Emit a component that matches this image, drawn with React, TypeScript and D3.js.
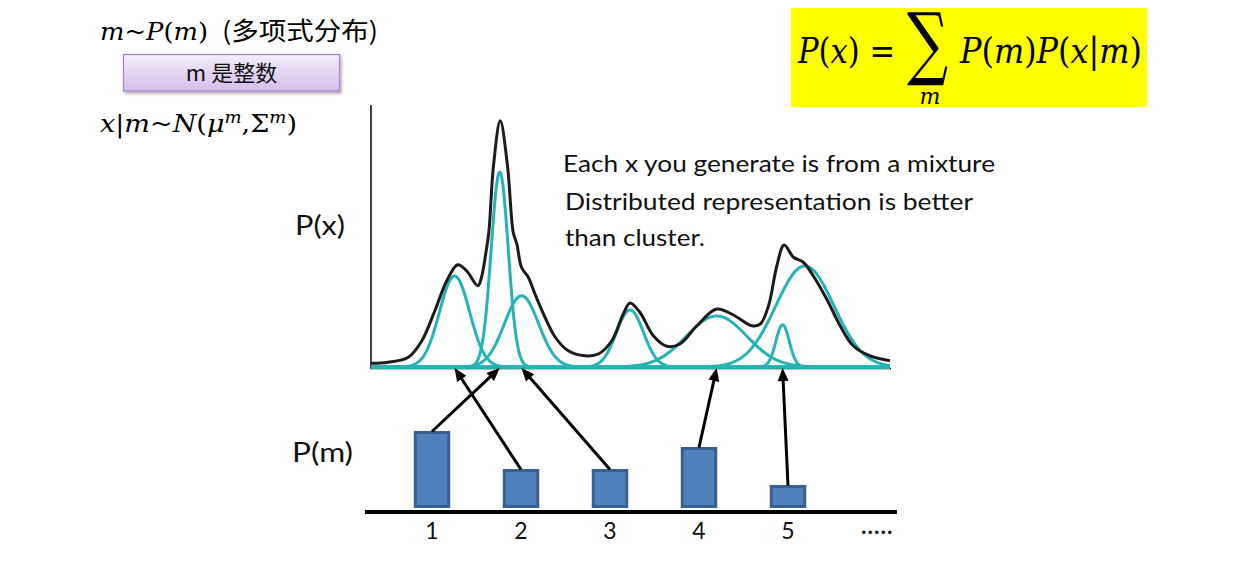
import React from 'react';
import * as d3 from 'd3';

// ---- data ----
// Gaussian components of the mixture (x in arbitrary units 0..10, height = density)
const componentMeans = [1.61, 2.48, 2.9, 4.99, 6.66, 7.93, 8.36];
const componentSigmas = [0.29, 0.164, 0.33, 0.26, 0.58, 0.13, 0.56];
const componentPeaks = [0.364, 0.78, 0.285, 0.228, 0.204, 0.169, 0.404];

// the drawn P(x) curve
const mixtureX = [0, 0.33, 0.72, 0.98, 1.23, 1.46, 1.67, 1.84, 2.06, 2.13, 2.21, 2.27, 2.36, 2.49, 2.63, 2.74, 2.81, 2.9, 3.03, 3.16, 3.35, 3.55, 3.8, 4.12, 4.38, 4.64, 4.86, 4.99, 5.18, 5.44, 5.7, 5.95, 6.28, 6.66, 6.98, 7.34, 7.5, 7.66, 7.82, 7.96, 8.14, 8.33, 8.52, 8.78, 9.04, 9.29, 9.61, 10];
const mixtureY = [0.015, 0.019, 0.039, 0.105, 0.225, 0.345, 0.409, 0.385, 0.325, 0.36, 0.452, 0.539, 0.805, 0.985, 0.805, 0.539, 0.492, 0.399, 0.359, 0.292, 0.2, 0.119, 0.065, 0.045, 0.052, 0.105, 0.212, 0.256, 0.219, 0.125, 0.083, 0.092, 0.165, 0.232, 0.208, 0.165, 0.172, 0.245, 0.405, 0.488, 0.439, 0.419, 0.365, 0.272, 0.165, 0.085, 0.045, 0.025];

// P(m) bars
const mCategories = ['1', '2', '3', '4', '5'];
const mEllipsis = '·····';
const mProbs = [0.37, 0.18, 0.18, 0.29, 0.1];
// which component each m points to
const mTargets = [1, 0, 2, 4, 5];

const textLines = [
  'Each x you generate is from a mixture',
  'Distributed representation is better',
  'than cluster.',
];

const SANS = 'Lato, "Open Sans", sans-serif';
const SERIF = '"DejaVu Serif", "Liberation Serif", serif';
const CJK = '"Noto Sans CJK SC", sans-serif';

export default function App() {
  const W = 1254;
  const H = 576;

  const xS = d3.scaleLinear().domain([0, 10]).range([371, 890]);
  const yS = d3.scaleLinear().domain([0, 1]).range([367, 117]);

  const gaussLine = d3
    .line<[number, number]>()
    .x((d) => xS(d[0]))
    .y((d) => yS(d[1]));
  const grid = d3.range(0, 10.0001, 0.02);
  const compPaths = componentMeans.map((mu, i) => {
    const s = componentSigmas[i];
    const h = componentPeaks[i];
    return gaussLine(grid.map((x) => [x, h * Math.exp(-((x - mu) ** 2) / (2 * s * s))] as [number, number])) || '';
  });

  const mixLine = d3
    .line<number>()
    .x((_, i) => xS(mixtureX[i]))
    .y((d) => yS(d))
    .curve(d3.curveCatmullRom.alpha(0.5));
  const mixPath = mixLine(mixtureY) || '';

  const bx = d3.scalePoint<string>().domain([...mCategories, mEllipsis]).range([432, 877]);
  const by = d3.scaleLinear().domain([0, 1]).range([506.5, 306.5]);
  const barW = 33.5;

  const arrows = mCategories.map((c, i) => {
    const x1 = bx(c) as number;
    const y1 = by(mProbs[i]) - 1;
    const x2 = xS(componentMeans[mTargets[i]]);
    const y2 = 368;
    const ang = Math.atan2(y2 - y1, x2 - x1);
    const L = 13;
    const hw = 5.5;
    const cx = x2 - L * Math.cos(ang);
    const cy = y2 - L * Math.sin(ang);
    const pts = [
      [x2, y2],
      [cx + hw * Math.sin(ang), cy - hw * Math.cos(ang)],
      [cx - hw * Math.sin(ang), cy + hw * Math.cos(ang)],
    ];
    return { x1, y1, x2: cx + Math.cos(ang), y2: cy + Math.sin(ang), pts: pts.map((p) => p.join(',')).join(' ') };
  });

  return (
    <svg width={W} height={H} style={{ position: 'absolute', left: 0, top: 0, background: '#fff' }}>
      <defs>
        <linearGradient id="boxGrad" x1="0" y1="0" x2="0" y2="1">
          <stop offset="0" stopColor="#F4EEFA" />
          <stop offset="1" stopColor="#D3BEEA" />
        </linearGradient>
        <filter id="shadow" x="-10%" y="-20%" width="130%" height="160%">
          <feDropShadow dx="1.5" dy="2" stdDeviation="1.5" floodColor="#000" floodOpacity="0.35" />
        </filter>
      </defs>

      {/* top-left notation */}
      <text x={100} y={40} fontFamily={SERIF} fontSize={24} textLength={108} lengthAdjust="spacingAndGlyphs">
        <tspan fontStyle="italic">m</tspan>
        <tspan>~</tspan>
        <tspan fontStyle="italic">P</tspan>
        <tspan>(</tspan>
        <tspan fontStyle="italic">m</tspan>
        <tspan>)</tspan>
      </text>
      <text x={222} y={40} fontFamily={CJK} fontSize={25} textLength={156} lengthAdjust="spacingAndGlyphs">
        (多项式分布)
      </text>

      <rect x={123.5} y={54.5} width={216} height={36.5} fill="url(#boxGrad)" stroke="#A283C9" strokeWidth={1.2} filter="url(#shadow)" />
      <text x={231.5} y={81} textAnchor="middle" fontFamily={CJK} fontSize={22} fill="#111">
        m 是整数
      </text>

      <text x={100} y={132} fontFamily={SERIF} fontSize={24} textLength={197} lengthAdjust="spacingAndGlyphs">
        <tspan fontStyle="italic">x</tspan>
        <tspan>|</tspan>
        <tspan fontStyle="italic">m</tspan>
        <tspan>~</tspan>
        <tspan fontStyle="italic">N</tspan>
        <tspan>(</tspan>
        <tspan fontStyle="italic">μ</tspan>
        <tspan fontStyle="italic" fontSize={16} dy={-9}>m</tspan>
        <tspan dy={9}>,</tspan>
        <tspan>Σ</tspan>
        <tspan fontStyle="italic" fontSize={16} dy={-9}>m</tspan>
        <tspan dy={9}>)</tspan>
      </text>

      {/* yellow formula box */}
      <rect x={791} y={8} width={356} height={99} fill="#FFFF00" />
      <text x={798} y={63} fontFamily={SERIF} fontSize={36} textLength={97} lengthAdjust="spacingAndGlyphs">
        <tspan fontStyle="italic">P</tspan>
        <tspan>(</tspan>
        <tspan fontStyle="italic">x</tspan>
        <tspan>) =</tspan>
      </text>
      <text transform="translate(927.5,70) scale(0.72,1)" x={0} y={0} textAnchor="middle" fontFamily={SERIF} fontSize={80}>
        ∑
      </text>
      <text x={930} y={104} textAnchor="middle" fontFamily={SERIF} fontStyle="italic" fontSize={22}>
        m
      </text>
      <text x={960} y={63} fontFamily={SERIF} fontSize={36} textLength={182} lengthAdjust="spacingAndGlyphs">
        <tspan fontStyle="italic">P</tspan>
        <tspan>(</tspan>
        <tspan fontStyle="italic">m</tspan>
        <tspan>)</tspan>
        <tspan fontStyle="italic">P</tspan>
        <tspan>(</tspan>
        <tspan fontStyle="italic">x</tspan>
        <tspan>|</tspan>
        <tspan fontStyle="italic">m</tspan>
        <tspan>)</tspan>
      </text>

      {/* P(x) plot */}
      <text x={295} y={235} fontFamily={SANS} fontSize={27} textLength={50} lengthAdjust="spacingAndGlyphs" fill="#111">
        P(x)
      </text>
      <line x1={371} y1={105} x2={371} y2={369} stroke="#000" strokeWidth={1.5} />
      <line x1={371} y1={368.5} x2={891} y2={368.5} stroke="#000" strokeWidth={1.5} />
      {compPaths.map((d, i) => (
        <path key={i} d={d} fill="none" stroke="#27B3B3" strokeWidth={3} strokeLinejoin="round" />
      ))}
      <path d={mixPath} fill="none" stroke="#1c1c1c" strokeWidth={3} strokeLinejoin="round" />

      <text x={563} y={171.5} fontFamily={SANS} fontSize={23} textLength={432} lengthAdjust="spacingAndGlyphs" fill="#111">
        {textLines[0]}
      </text>
      <text x={565} y={210} fontFamily={SANS} fontSize={23} textLength={408} lengthAdjust="spacingAndGlyphs" fill="#111">
        {textLines[1]}
      </text>
      <text x={565} y={246} fontFamily={SANS} fontSize={23} textLength={140} lengthAdjust="spacingAndGlyphs" fill="#111">
        {textLines[2]}
      </text>

      {/* P(m) bars */}
      <text x={292} y={462} fontFamily={SANS} fontSize={27} textLength={61} lengthAdjust="spacingAndGlyphs" fill="#111">
        P(m)
      </text>
      {mCategories.map((c, i) => (
        <rect
          key={c}
          x={(bx(c) as number) - barW / 2}
          y={by(mProbs[i])}
          width={barW}
          height={by(0) - by(mProbs[i])}
          fill="#4F81BD"
          stroke="#3A5F8C"
          strokeWidth={3}
        />
      ))}
      <line x1={365} y1={512} x2={897} y2={512} stroke="#000" strokeWidth={4} />
      {mCategories.map((c) => (
        <text key={c} x={bx(c) as number} y={539} textAnchor="middle" fontFamily={SANS} fontSize={23} fill="#111">
          {c}
        </text>
      ))}
      <text x={bx(mEllipsis) as number} y={539} textAnchor="middle" fontFamily={SANS} fontSize={23} fill="#111" letterSpacing={0.5}>
        {mEllipsis}
      </text>

      {arrows.map((a, i) => (
        <g key={i}>
          <line x1={a.x1} y1={a.y1} x2={a.x2} y2={a.y2} stroke="#000" strokeWidth={3} />
          <polygon points={a.pts} fill="#000" />
        </g>
      ))}
    </svg>
  );
}
